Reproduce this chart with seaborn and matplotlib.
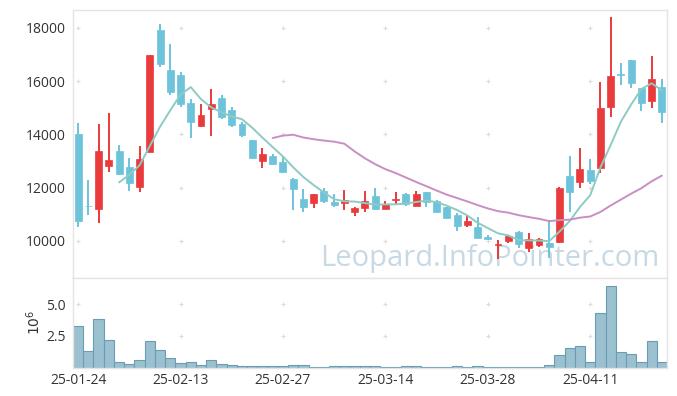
import numpy as np
import pandas as pd
import matplotlib
matplotlib.use("Agg")
import matplotlib.pyplot as plt
import seaborn as sns

# ---- data ----
opens = [14020, 11310, 11210, 12830, 13380, 12780, 12040, 13350, 17920, 16420,
         16240, 15170, 14320, 14970, 15370, 14920, 14390, 13790, 13020, 13190,
         12970, 12320, 11580, 11440, 11880, 11470, 11440, 11100, 11250, 11690,
         11210, 11530, 11770, 11330, 11830, 11520, 11280, 10980, 10610, 10510,
         10160, 9860, 10010, 10350, 9750, 9850, 9910, 9980, 12440, 12230,
         12670, 12750, 15040, 16280, 16800, 15740, 15270, 15770]
highs = [14420, 12290, 14380, 14800, 13600, 13110, 13570, 17000, 18150, 17400,
         16350, 15320, 15130, 15700, 15470, 15040, 14470, 13800, 13490, 13260,
         13200, 12380, 11940, 11770, 11980, 11770, 11900, 11260, 11880, 11980,
         11500, 11830, 11820, 11870, 11840, 11530, 11290, 11060, 10940, 10890,
         10210, 10040, 10200, 10360, 10290, 10120, 10790, 12040, 13190, 13480,
         13070, 15980, 18420, 16670, 16810, 15750, 16950, 16070]
lows = [10510, 10960, 10660, 12600, 12480, 11890, 11850, 13350, 16550, 15470,
        15020, 13860, 14270, 13950, 14590, 14270, 13920, 13120, 12730, 12880,
        12540, 11150, 11100, 11230, 11440, 11290, 11160, 10940, 11080, 11210,
        11200, 11390, 11330, 11320, 11290, 11090, 10870, 10390, 10510, 10110,
        10030, 9310, 9910, 9720, 9600, 9790, 9350, 9910, 11080, 11980,
        12140, 12540, 14670, 15860, 15740, 14880, 15010, 14440]
closes = [10760, 11300, 13380, 13040, 12520, 12190, 13080, 17000, 16660, 15610,
          15150, 14480, 14730, 15130, 14670, 14360, 13980, 13130, 13270, 12890,
          12600, 11950, 11290, 11770, 11500, 11350, 11540, 11240, 11490, 11210,
          11390, 11560, 11380, 11780, 11480, 11100, 10880, 10580, 10760, 10120,
          10090, 9890, 10190, 9880, 10060, 10060, 9790, 11980, 11850, 12700,
          12270, 15000, 16200, 16240, 15920, 15190, 16070, 14860]
volumes = [3.27e6, 1.30e6, 3.80e6, 2.17e6, 0.43e6, 0.25e6, 0.59e6, 2.09e6, 1.38e6, 0.72e6,
           0.35e6, 0.41e6, 0.20e6, 0.59e6, 0.28e6, 0.20e6, 0.10e6, 0.08e6, 0.08e6, 0.08e6,
           0.08e6, 0.17e6, 0.17e6, 0.07e6, 0.07e6, 0.09e6, 0.09e6, 0.09e6, 0.08e6, 0.08e6,
           0.03e6, 0.03e6, 0.08e6, 0.08e6, 0.03e6, 0.03e6, 0.03e6, 0.08e6, 0.03e6, 0.08e6,
           0.03e6, 0.03e6, 0.03e6, 0.03e6, 0.03e6, 0.03e6, 0.17e6, 0.96e6, 1.51e6, 1.67e6,
           0.43e6, 4.29e6, 6.42e6, 1.20e6, 1.04e6, 0.43e6, 2.09e6, 0.43e6]
tick_idx = [0, 10, 20, 30, 40, 50]
tick_labels = ["25-01-24", "25-02-13", "25-02-27", "25-03-14", "25-03-28", "25-04-11"]
price_ticks = [10000, 12000, 14000, 16000, 18000]
vol_ticks = [2.5, 5.0]

df = pd.DataFrame({"o": opens, "h": highs, "l": lows, "c": closes, "v": volumes})
df["i"] = np.arange(len(df))
df["ma5"] = df["c"].rolling(5).mean()
df["ma20"] = df["c"].rolling(20).mean()
df["vm"] = df["v"] / 1e6

UP = "#e93a3c"
DOWN = "#6dc3da"
MA5 = "#8dcbc3"
MA20 = "#c98ec2"
SPINE = "#e8e2e3"

sns.set_style("white")
plt.rcParams["font.family"] = ["Open Sans", "DejaVu Sans"]

fig = plt.figure(figsize=(6.77, 3.96), dpi=100)
ax = fig.add_axes([73/677, 1-278/396, 594/677, 268/396])
axv = fig.add_axes([73/677, 1-367.5/396, 594/677, 89.5/396], sharex=ax)

# watermark
ax.text(0.988, 0.045, "Leopard.InfoPointer.com", transform=ax.transAxes,
        ha="right", va="baseline", fontsize=21, color="#c6d9e4", zorder=0)

# grid "+" marks
for a, yt in ((ax, price_ticks), (axv, vol_ticks)):
    gx, gy = np.meshgrid(tick_idx, yt)
    a.scatter(gx.ravel(), gy.ravel(), marker="+", s=12, color="#dcdcdc",
              linewidths=0.8, zorder=0.5)

up = df["c"] >= df["o"]
colors = np.where(up, UP, DOWN)
ax.vlines(df["i"], df["l"], df["h"], colors=colors, linewidth=1.4, zorder=2)
body_bottom = np.minimum(df["o"], df["c"])
body_h = np.maximum(np.abs(df["c"] - df["o"]), 25)
ax.bar(df["i"], body_h, bottom=body_bottom, width=0.68, color=colors,
       edgecolor=colors, linewidth=0.5, zorder=3)

sns.lineplot(data=df, x="i", y="ma5", ax=ax, color=MA5, linewidth=1.4, zorder=4)
sns.lineplot(data=df, x="i", y="ma20", ax=ax, color=MA20, linewidth=1.4, zorder=4)

ax.set_xlim(-0.5, 57.5)
ax.set_ylim(8610, 18676)
ax.set_yticks(price_ticks)
ax.set_yticklabels([str(t) for t in price_ticks])
ax.set_xlabel("")
ax.set_ylabel("")
ax.tick_params(axis="x", labelbottom=False, length=0)
ax.tick_params(axis="y", length=0, labelsize=10, labelcolor="#333333", pad=5)

# volume
axv.bar(df["i"], df["vm"], width=1.0, color="#9bc0d0", edgecolor="#6a9db3",
        linewidth=0.8, zorder=2)
axv.set_ylim(0, 7.05)
axv.set_yticks(vol_ticks)
axv.set_yticklabels(["2.5", "5.0"])
axv.set_xticks(tick_idx)
axv.set_xticklabels(tick_labels)
axv.tick_params(axis="both", length=0, labelsize=10, labelcolor="#333333")
axv.tick_params(axis="y", pad=5)
axv.tick_params(axis="x", pad=4)
axv.set_ylabel(r"$10^6$", fontsize=10, color="#333333", labelpad=2)

for a in (ax, axv):
    for s in a.spines.values():
        s.set_color(SPINE)
        s.set_linewidth(1)

fig.savefig("out.png", dpi=100)
